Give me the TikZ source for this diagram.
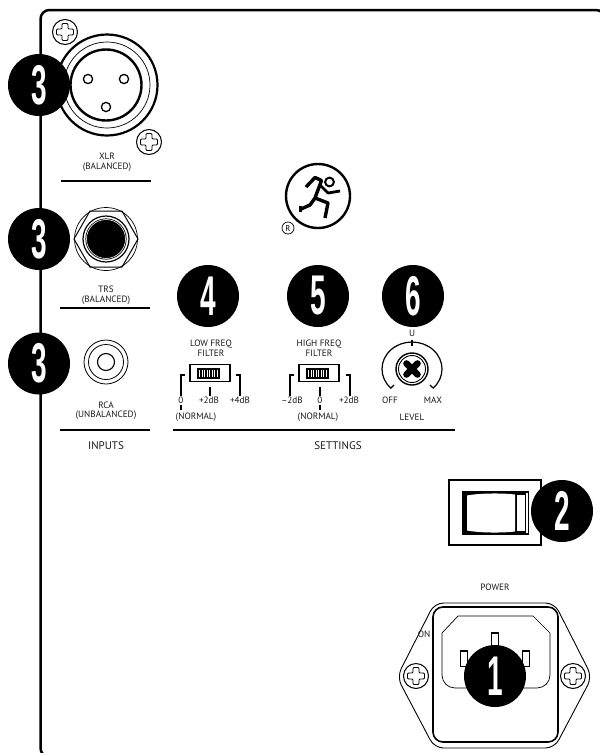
\documentclass[tikz,border=0pt]{standalone}
\usepackage{fontspec}
\usepackage{xcolor}
\setmainfont{PT Sans}
\newfontfamily\digitfont{Liberation Sans}[Scale=1]
\usetikzlibrary{positioning,calc}
\newcommand{\digit}[1]{\scalebox{.5}[1]{\digitfont\bfseries #1}}

\begin{document}
\begin{tikzpicture}[
  x=1pt, y=-1pt,
  badge/.style={circle, fill=black, text=white, minimum size=62pt, inner sep=0pt, font=\fontsize{56}{56}\selectfont},
  lbl/.style={inner sep=0pt, align=center, text=black!90, font=\fontsize{9.2}{9.8}\selectfont},
  head/.style={inner sep=0pt, align=center, text=black!90, font=\fontsize{11}{13}\selectfont},
  rule/.style={line width=2.4pt},
  ring/.style={circle, draw, inner sep=0pt, fill=white},
  tick/.style={line width=1.1pt},
  wire/.style={line width=1pt}
]
\useasboundingbox (0,0) rectangle (600,753);
\clip (0,0) rectangle (600,753);

% panel edge
\draw[line width=2.5pt, rounded corners=9pt] (60,757) -- (40.5,757) -- (40.5,10) -- (605,10) -- (605,30);

% inputs
\node[ring, line width=2.2pt, minimum size=101pt] (xlr) at (107,85) {};
\node[ring, line width=.7pt, minimum size=86pt] (xlrmid) at (107,85) {};
\node[ring, line width=2.4pt, minimum size=71pt] (xlrin) at (106,85) {};
\foreach \px/\py in {88/79,124/79,106/107}
  \draw[line width=1.3pt] (\px,\py) circle[radius=4.6];
\node[lbl, below=16pt of xlr] (xlrlab) {XLR\\(BALANCED)};
\draw[rule] (61,181) -- (151,181);

\node[ring, line width=.7pt, minimum size=63pt] (trsout) at (106,239) {};
\draw[wire] (74,239) -- (90,211) -- (122,211) -- (138,239) -- (122,267) -- (90,267) -- cycle;
\node[ring, line width=1.2pt, minimum size=46pt] (trsmid) at (106,239) {};
\node[circle, fill=black, draw=black, line width=.8pt, double=white, inner sep=0pt, minimum size=39pt] (trsin) at (106,239) {};
\node[lbl, below=15pt of trsout] (trslab) {TRS\\(BALANCED)};
\draw[rule] (60,308) -- (150,308);

\node[ring, line width=.8pt, minimum size=44pt] (rca) at (106,362) {};
\node[ring, line width=.8pt, minimum size=35pt] (rcamid) at (106,362) {};
\node[ring, line width=1.1pt, minimum size=17pt] (rcain) at (106,362) {};
\node[lbl, below=17pt of rca] (rcalab) {RCA\\(UNBALANCED)};
\draw[rule] (60,430) -- (150,430);
\node[head] (inputs) at (106,446) {INPUTS};

% logo
\node[circle, draw, line width=2.4pt, minimum size=64pt, inner sep=0pt] (logo) at (318,196) {};
\draw[line width=3.4pt, line join=round] (306,187) -- (315,177.5) -- (321.5,180.5) -- (315,198) -- (310,205) -- (300,209.5);
\draw[line width=3pt] (300,206) -- (300,212);
\draw[line width=3.4pt, line join=round] (315,198) -- (328,203) -- (325,218);
\draw[line width=2.8pt, line join=round] (320,185) -- (328,193) -- (340,191);
\draw[line width=2pt] (329.5,182) circle[radius=4.4];
\node[circle, draw, line width=.7pt, inner sep=0pt, minimum size=12pt, font=\fontsize{8.5}{8.5}\selectfont] (reg) at (288,228) {R};

% filters
\foreach \sx/\sy in {190/0,299/0}{
  \draw[line width=1.2pt] (\sx,364.5) rectangle ++(40,17);
  \fill (\sx+7,367.5) rectangle ++(23,11);
  \foreach \rb in {2,4.5,...,20}
    \fill[white] (\sx+7+\rb,369.5) rectangle ++(1,7);
}
\node[lbl] (lowlab) at (211,348.5) {LOW FREQ\\FILTER};
\node[lbl] (highlab) at (319,348.5) {HIGH FREQ\\FILTER};
\draw[tick] (185,375) -- (181,375) -- (181,396);
\draw[tick] (236,375) -- (240,375) -- (240,396);
\draw[tick] (210,387) -- (210,396);
\draw[tick] (181,404.5) -- (181,410);
\draw[tick] (294,375) -- (290,375) -- (290,396);
\draw[tick] (346,375) -- (350,375) -- (350,396);
\draw[tick] (320,387) -- (320,396);
\draw[tick] (320,404.5) -- (320,410);
\node[lbl] (lowa) at (181,400.5) {0};
\node[lbl] (lowb) at (209,400.5) {+2dB};
\node[lbl] (lowc) at (240,400.5) {+4dB};
\node[lbl] (lownorm) at (196,417) {(NORMAL)};
\node[lbl] (higha) at (292,400.5) {–2dB};
\node[lbl] (highb) at (320,400.5) {0};
\node[lbl] (highc) at (349,400.5) {+2dB};
\node[lbl] (highnorm) at (318,417) {(NORMAL)};

% level knob
\draw[line width=1.2pt] (394,385) -- (390.8,388.1) arc[start angle=135, end angle=405, x radius=30, y radius=27] -- (430,385);
\draw[tick] (412,339.5) -- (412,346);
\node[ring, line width=1.4pt, minimum size=32pt] (knob) at (412,369) {};
\node[ring, line width=.9pt, minimum size=27pt] (knobin) at (412,369) {};
\draw[line width=6.6pt, line cap=round] (406.5,363.5) -- (417.5,374.5);
\draw[line width=6.6pt, line cap=round] (417.5,363.5) -- (406.5,374.5);
\node[lbl] (levelu) at (412,333) {U};
\node[lbl] (leveloff) at (390,400.5) {OFF};
\node[lbl] (levelmax) at (433,400.5) {MAX};
\node[lbl] (levellab) at (412,417) {LEVEL};

\draw[rule] (173,430) -- (455,430);
\node[head] (settings) at (338,446) {SETTINGS};

% power switch
\node[draw, line width=1.3pt, minimum width=92pt, minimum height=65pt, inner sep=0pt] (rockbox) at (495,512.5) {};
\fill (462,491) rectangle (529,535);
\fill[white] (467,495.5) .. controls (480,493) and (503,493) .. (515,494.5) -- (515,531.5) .. controls (503,533) and (480,533) .. (467,530.5) -- cycle;
\fill[white] (516.5,495) rectangle (525,531);
\fill[white] (526,492.5) rectangle (528.2,533);

% mains inlet
\node[lbl] (powerlab) at (495,587) {POWER};
\draw[line width=.9pt, rounded corners=9pt] (434.5,603) -- (554.5,603) -- (592,677) -- (554.5,748) -- (434.5,748) -- (397,677) -- cycle;
\node[draw, line width=1.6pt, rounded corners=10pt, fill=white, minimum width=125pt, minimum height=135pt, inner sep=0pt] (inlet) at (495.5,674.5) {};
\draw[line width=.7pt] (442,655) -- (442,633) -- (458,616) -- (533,616) -- (550,633) -- (550,655) [rounded corners=13pt] -- (550,688) -- (442,688) -- (442,655);
\foreach \px/\py in {495/640.5,464/658.5,526/658.5}{
  \draw[line width=.8pt] (\px-3.5,\py-8) rectangle ++(7,16);
  \draw[line width=2pt] (\px-3.5,\py-8) -- ++(7,0);
}
\node[lbl, inner sep=.5pt] (onlab) at (424,634) {ON};

% screws
\foreach \sx/\sy in {65/32,149/142,416/676,573/676}{
  \draw[line width=1pt, fill=white] (\sx,\sy) circle[radius=12.5];
  \draw[line width=.9pt, rounded corners=1pt] (\sx-3,\sy-8.5) -- (\sx+3,\sy-8.5) -- (\sx+3,\sy-3) -- (\sx+8.5,\sy-3) -- (\sx+8.5,\sy+3) -- (\sx+3,\sy+3) -- (\sx+3,\sy+8.5) -- (\sx-3,\sy+8.5) -- (\sx-3,\sy+3) -- (\sx-8.5,\sy+3) -- (\sx-8.5,\sy-3) -- (\sx-3,\sy-3) -- cycle;
}

% callouts
\node[badge] (callxlr) at (39,85) {\digit{3}};
\node[badge] (calltrs) at (39,239) {\digit{3}};
\node[badge] (callrca) at (39,363.5) {\digit{3}};
\node[badge] (calllow) at (208,296) {\digit{4}};
\node[badge] (callhigh) at (318,296) {\digit{5}};
\node[badge] (calllevel) at (413,296) {\digit{6}};
\node[badge] (callswitch) at (562,511) {\digit{2}};
\node[badge] (callinlet) at (495,676) {\digit{1}};
\end{tikzpicture}
\end{document}
